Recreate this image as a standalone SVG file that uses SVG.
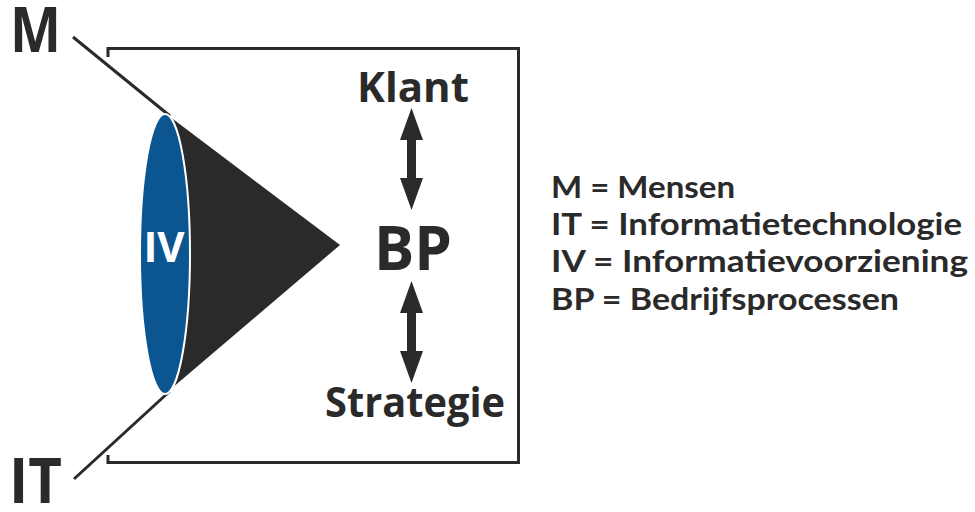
<svg xmlns="http://www.w3.org/2000/svg" width="975" height="512" viewBox="0 0 975 512">
<style>
.t{font-family:"Open Sans","Noto Sans","Liberation Sans",sans-serif;font-weight:bold;fill:#2a2a2a}
.lg{font-family:Lato,"Open Sans","Liberation Sans",sans-serif;font-weight:bold;fill:#2a2a2a;font-size:31px}
.ln{stroke:#2a2a2a;stroke-width:3;fill:none}
.dk{fill:#2a2a2a}
</style>
<defs>
<path id="dblarrow" d="M0,0 L11.5,32 L4.5,32 L4.5,70 L11.5,70 L0,102 L-11.5,70 L-4.5,70 L-4.5,32 L-11.5,32 Z"/>
</defs>
<rect width="975" height="512" fill="#ffffff"/>
<g id="frame">
<path class="ln" d="M108,57 L108,48.5 L518.5,48.5 L518.5,462.5 L108,462.5 L108,455"/>
</g>
<g id="cone">
<line class="ln" x1="73" y1="37" x2="170" y2="116"/>
<line class="ln" x1="74" y1="479" x2="170" y2="391"/>
<polygon class="dk" points="165,113 340,245 165,394"/>
<ellipse cx="165" cy="254" rx="25" ry="140" fill="#0b5591" stroke="#ffffff" stroke-width="2"/>
<text class="t" x="164" y="262" font-size="42" text-anchor="middle" style="fill:#ffffff">IV</text>
</g>
<g id="labels">
<text class="t" x="10" y="52" font-size="62" textLength="51" lengthAdjust="spacingAndGlyphs">M</text>
<text class="t" x="9" y="503" font-size="62" textLength="53" lengthAdjust="spacingAndGlyphs">IT</text>
</g>
<g id="klant"><text class="t" x="413" y="102" font-size="42" text-anchor="middle">Klant</text></g>
<g id="bp"><text class="t" x="413" y="270" font-size="60" text-anchor="middle">BP</text></g>
<g id="strategie"><text class="t" x="415" y="417" font-size="42" text-anchor="middle" textLength="180" lengthAdjust="spacingAndGlyphs">Strategie</text></g>
<g id="connectors">
<use href="#dblarrow" x="411.5" y="108" class="dk"/>
<use href="#dblarrow" x="411.5" y="281" class="dk"/>
</g>
<g id="legend">
<text class="lg" x="551" y="198" textLength="184" lengthAdjust="spacingAndGlyphs">M = Mensen</text>
<text class="lg" x="551" y="235" textLength="411" lengthAdjust="spacingAndGlyphs">IT = Informatietechnologie</text>
<text class="lg" x="551" y="272" textLength="417" lengthAdjust="spacingAndGlyphs">IV = Informatievoorziening</text>
<text class="lg" x="551" y="310" textLength="348" lengthAdjust="spacingAndGlyphs">BP = Bedrijfsprocessen</text>
</g>
</svg>
